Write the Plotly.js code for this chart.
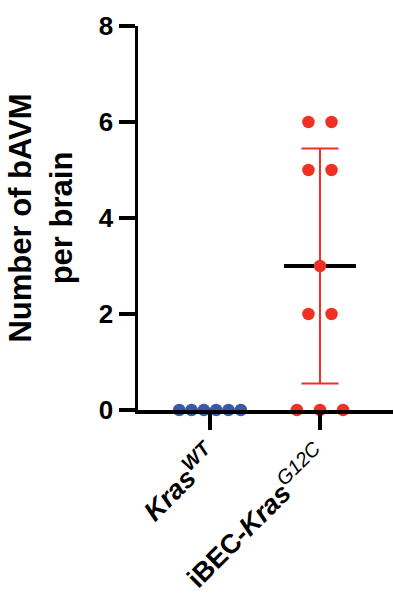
<!DOCTYPE html>
<html>
<head>
<meta charset="utf-8">
<script src="https://cdn.plot.ly/plotly-3.0.1.min.js"></script>
<style>html,body{margin:0;padding:0;background:#fff;}#chart{width:394px;height:596px;}</style>
</head>
<body>
<div id="chart"></div>
<script>
// ---- data ----
var groups = [
  '<b><i>Kras</i><sup><b><i><span style="font-size:20px">WT</span></i></b></sup></b>',
  '<b>iBEC-<i>Kras</i></b><sup><i><span style="font-size:20px">G12C</span></i></sup>'
];
var wtValues = [0, 0, 0, 0, 0, 0];
var g12cValues = [6, 6, 5, 5, 3, 2, 2, 0, 0, 0];
var g12cMean = 3.0;
var g12cSD = 2.45;
var yTicks = [0, 2, 4, 6, 8];
var yTitle = '<b>Number of bAVM<br>per brain</b>';

// ---- helpers: spread equal values side by side (scatter-dot layout) ----
function spread(values, center, step) {
  var counts = {}, seen = {};
  values.forEach(function (v) { counts[v] = (counts[v] || 0) + 1; });
  return values.map(function (v) {
    var n = counts[v];
    var i = seen[v] || 0; seen[v] = i + 1;
    return center + (i - (n - 1) / 2) * step;
  });
}

var blue = '#3d57a7';
var red = '#ee3124';

var traces = [
  { // mean line
    x: [1 - 0.327, 1 + 0.327], y: [g12cMean, g12cMean],
    mode: 'lines', line: { color: '#000', width: 4 },
    cliponaxis: false, hoverinfo: 'skip', showlegend: false
  },
  { // SD error bar
    x: [1], y: [g12cMean], mode: 'markers',
    marker: { size: 1, opacity: 0 },
    error_y: { type: 'data', array: [g12cSD], visible: true, color: red, thickness: 2, width: 18.5 },
    cliponaxis: false, showlegend: false
  },
  {
    x: spread(wtValues, 0, 0.112), y: wtValues, mode: 'markers',
    marker: { color: blue, size: 12.5 }, cliponaxis: false, showlegend: false
  },
  {
    x: spread(g12cValues, 1, 0.21), y: g12cValues, mode: 'markers',
    marker: { color: red, size: 12.5 }, cliponaxis: false, showlegend: false
  }
];

var layout = {
  width: 394, height: 596,
  margin: { l: 138, r: 1, t: 26, b: 186 },
  paper_bgcolor: '#fff', plot_bgcolor: '#fff',
  font: { family: 'Liberation Sans, Arial, sans-serif', color: '#000' },
  showlegend: false,
  xaxis: {
    range: [-0.655, 1.664], showgrid: false, zeroline: false,
    showline: true, linecolor: '#000', linewidth: 3.5,
    tickvals: [0, 1], ticktext: groups, tickangle: -45,
    ticks: 'outside', ticklen: 16, tickwidth: 3.5, tickcolor: '#000',
    tickfont: { size: 27 },
    fixedrange: true
  },
  yaxis: {
    range: [0, 8], showgrid: false, zeroline: false,
    showline: true, linecolor: '#000', linewidth: 3.5,
    tickvals: yTicks, ticktext: yTicks.map(function (t) { return '<b>' + t + '</b>'; }),
    ticks: 'outside', ticklen: 16, tickwidth: 3.5, tickcolor: '#000',
    tickfont: { size: 26 },
    title: { text: yTitle, font: { size: 31 }, standoff: 18 },
    fixedrange: true
  }
};

Plotly.newPlot('chart', traces, layout, { staticPlot: true });
</script>
</body>
</html>
